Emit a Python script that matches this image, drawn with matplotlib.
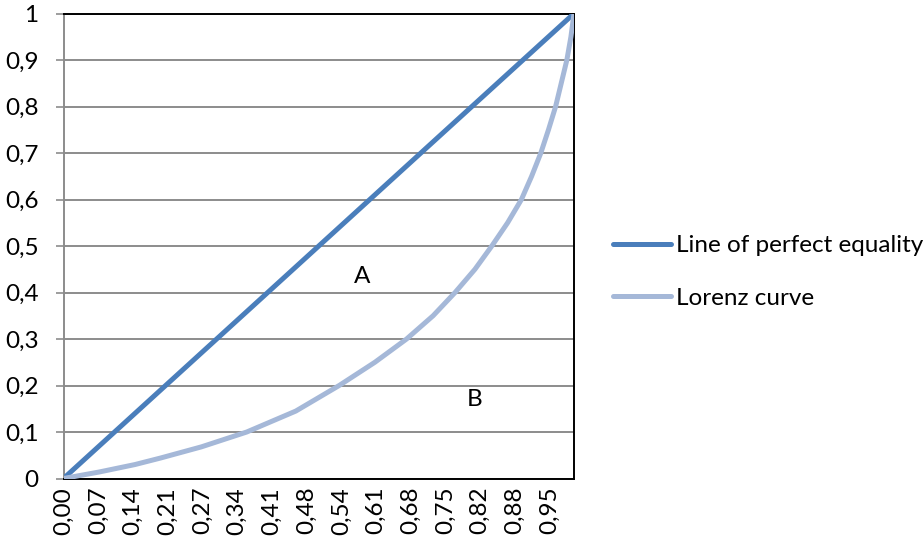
import numpy as np
import matplotlib
matplotlib.use("Agg")
import matplotlib.pyplot as plt

# Lorenz curve points (share of population, share of income)
lorenz_x = [0.00, 0.07, 0.14, 0.19, 0.27, 0.359, 0.455, 0.540, 0.610, 0.672,
            0.724, 0.767, 0.806, 0.839, 0.870, 0.897, 0.917, 0.935, 0.950,
            0.964, 0.975, 0.986, 0.994, 1.00]
lorenz_y = [0.00, 0.014, 0.030, 0.044, 0.068, 0.10, 0.145, 0.20, 0.25, 0.30,
            0.35, 0.40, 0.45, 0.50, 0.55, 0.60, 0.65, 0.70, 0.75,
            0.80, 0.85, 0.90, 0.95, 1.00]

equality_x = [0.0, 1.0]
equality_y = [0.0, 1.0]

x_tick_labels = ["0,00", "0,07", "0,14", "0,21", "0,27", "0,34", "0,41", "0,48",
                 "0,54", "0,61", "0,68", "0,75", "0,82", "0,88", "0,95"]
y_ticks = [0, 0.1, 0.2, 0.3, 0.4, 0.5, 0.6, 0.7, 0.8, 0.9, 1]
y_tick_labels = ["0", "0,1", "0,2", "0,3", "0,4", "0,5", "0,6", "0,7", "0,8", "0,9", "1"]

series_names = ["Line of perfect equality", "Lorenz curve"]
area_labels = ["A", "B"]

plt.rcParams['font.family'] = ['Lato', 'DejaVu Sans']
fs = 17.5

fig = plt.figure(figsize=(9.24, 5.48), dpi=100)
ax = fig.add_axes([63.5 / 924, 1 - 478.5 / 548, (574 - 63.5) / 924, (478.5 - 13.5) / 548])

ax.plot(equality_x, equality_y, color="#4A7EBB", lw=3.6, solid_capstyle="round",
        label=series_names[0], zorder=3)
ax.plot(lorenz_x, lorenz_y, color="#A5B8D8", lw=3.6, solid_capstyle="round",
        solid_joinstyle="round", label=series_names[1], zorder=3)

ax.set_xlim(0, 1)
ax.set_ylim(0, 1)

ax.set_yticks(y_ticks)
ax.set_yticklabels(y_tick_labels, fontsize=fs)
ax.set_xticks(np.arange(len(x_tick_labels)) * 0.068)
ax.set_xticklabels(x_tick_labels, rotation=90, fontsize=fs)

ax.yaxis.grid(True, color="#8C8C8C", lw=1.4)
ax.set_axisbelow(True)
ax.tick_params(axis="y", length=6, width=1.2, color="#8C8C8C", pad=12)
ax.tick_params(axis="x", length=0, pad=6)

for side in ["top", "right", "bottom"]:
    ax.spines[side].set_color("black")
    ax.spines[side].set_linewidth(1.4)
ax.spines["left"].set_color("#8C8C8C")
ax.spines["left"].set_linewidth(1.4)

ax.text(0.584, 0.435, area_labels[0], fontsize=fs, ha="center", va="center")
ax.text(0.805, 0.17, area_labels[1], fontsize=fs, ha="center", va="center")

ax.legend(loc="center left", bbox_to_anchor=(613 / 924, 1 - 272 / 548),
          bbox_transform=fig.transFigure, frameon=False, fontsize=fs,
          handlelength=2.4, handletextpad=0.2, labelspacing=1.3,
          borderpad=0, borderaxespad=0)

fig.savefig("out.png", dpi=100)
